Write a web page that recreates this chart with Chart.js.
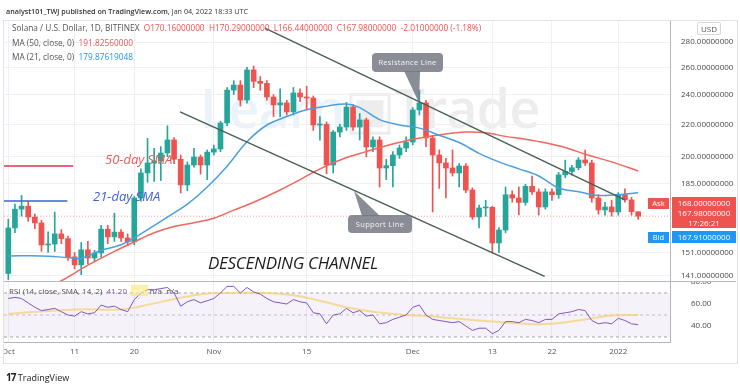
<!DOCTYPE html>
<html lang="en">
<head>
<meta charset="UTF-8">
<title>Solana / U.S. Dollar, 1D</title>
<script src="https://cdn.jsdelivr.net/npm/chart.js@4.4.1/dist/chart.umd.min.js"></script>
<style>
  body { margin:0; width:740px; height:387px; background:#fff; position:relative; overflow:hidden;
         font-family:"Open Sans","DejaVu Sans",sans-serif; color:#333; }
  .abs { position:absolute; white-space:nowrap; }
  canvas { position:absolute; }
  .frame { position:absolute; left:3px; top:20px; width:733px; height:342px; border:1px solid #e0e3eb; }
  .sep { position:absolute; left:4px; top:281px; width:732px; height:1px; background:#b8bbc4; }
  .wm { position:absolute; left:200px; top:70px; font-size:54px; font-weight:600; letter-spacing:-1px; }
  .callout { position:absolute; background:rgba(118,121,132,0.85); color:#f4f4f4; font-size:7.5px;
             border-radius:4px; text-align:center; letter-spacing:0.3px; }
  .tag { position:absolute; color:#fff; font-size:7.5px; text-align:center; }
  .lg { font-size:8.3px; color:#555; }
</style>
</head>
<body>
<div class="frame"></div>
<div class="wm"><span style="color:rgba(90,160,215,0.13)">Learn</span><span style="color:rgba(0,0,0,0.07)">&#9635;Trade</span></div>
<canvas id="price" width="736" height="260" style="left:4px;top:21px"></canvas>
<canvas id="rsi" width="736" height="81" style="left:4px;top:281px"></canvas>
<div class="sep"></div>

<svg class="abs" width="740" height="387" style="left:0;top:0">
  <polygon points="404,71 420,71 419,103" fill="rgba(118,121,132,0.85)"/>
  <polygon points="362,216 380,216 354,191" fill="rgba(118,121,132,0.85)"/>
</svg>

<div class="abs" style="left:6px;top:6px;font-size:7.2px;color:#333"><b style="font-weight:600">analyst101_TWJ published on TradingView.com,</b> Jan 04, 2022 18:33 UTC</div>
<div class="abs lg" style="left:12px;top:22px">Solana / U.S. Dollar, 1D, BITFINEX&nbsp; <span style="color:#ef5350">O170.16000000&nbsp; H170.29000000&nbsp; L166.44000000&nbsp; C167.98000000&nbsp; -2.01000000 (-1.18%)</span></div>
<div class="abs lg" style="left:12px;top:37px">MA (50, close, 0)&nbsp; <span style="color:#ef5350">191.82560000</span></div>
<div class="abs lg" style="left:12px;top:51px">MA (21, close, 0)&nbsp; <span style="color:#2196f3">179.87619048</span></div>

<div class="abs" style="left:105px;top:150px;font-size:13px;font-style:italic;color:#e35d5b">50-day SMA</div>
<div class="abs" style="left:93px;top:187px;font-size:13px;font-style:italic;color:#3f62da">21-day SMA</div>
<div class="abs" style="left:208px;top:251px;font-size:17px;font-style:italic;color:#1e1e1e;letter-spacing:-0.3px">DESCENDING CHANNEL</div>

<div class="callout" style="left:372px;top:53px;width:71px;height:19px;line-height:19px">Resistance Line</div>
<div class="callout" style="left:348px;top:215px;width:64px;height:18px;line-height:18px">Support Line</div>

<div class="abs" style="left:697px;top:22px;font-size:8px;color:#555;border:1px solid #d6d8de;border-radius:2px;padding:0 3px;line-height:11px">USD</div>
<div class="tag" style="left:648px;top:198px;width:21px;height:11px;line-height:11px;background:#ef5350">Ask</div>
<div class="tag" style="left:648px;top:232px;width:21px;height:11px;line-height:11px;background:#2196f3">Bid</div>
<div class="tag" style="left:672px;top:197px;width:64px;height:31px;background:#ef5350;font-size:8px;line-height:10px;padding-top:1px;box-sizing:border-box">168.00000000<br>167.98000000<br>17:26:21</div>
<div class="tag" style="left:672px;top:231px;width:64px;height:12px;line-height:12px;background:#2196f3;font-size:8px">167.91000000</div>

<div class="abs lg" style="left:9px;top:285px;font-size:8px">RSI (14, close, SMA, 14, 2)&nbsp; <span style="color:#7e57c2">41.20</span>&nbsp; <span style="background:rgba(255,230,90,0.55);color:rgba(255,255,255,0.8)">&nbsp;n/a&nbsp;</span> n/a .n/a</div>

<div class="abs" style="left:6px;top:370px;font-size:9px;color:#222"><b style="font-size:10px;letter-spacing:-1px">17</b> TradingView</div>

<script>
// daily candles, Oct 1 2021 (index 0) .. Jan 4 2022 (index 95)
const openP = [142.0,162.3,171.5,173.0,167.6,164.7,154.4,154.8,159.5,157.3,
  149.1,145.6,152.2,148.6,150.8,161.7,158.1,160.3,157.6,155.8,
  177.2,190.7,196.4,197.5,202.2,210.1,198.5,184.1,195.2,199.8,
  195.2,202.7,204.6,220.8,243.2,246.8,236.2,258.0,249.5,248.0,
  238.3,232.8,234.2,228.1,241.1,238.3,237.6,219.5,220.0,195.2,
  215.0,218.2,231.4,218.2,222.8,205.8,210.1,193.5,194.8,201.0,
  205.2,208.8,229.4,234.2,211.3,201.0,196.4,193.5,190.7,194.6,
  181.4,167.6,172.1,172.4,155.3,161.3,178.9,177.2,174.9,183.4,
  180.4,172.6,180.4,178.9,189.6,191.5,193.6,198.1,196.4,177.2,
  171.1,172.6,170.1,178.9,176.2,170.16];
const highP = [166.5,174.0,178.5,175.5,169.0,166.0,160.5,170.0,161.5,158.5,
  151.0,155.5,156.0,152.0,163.5,163.5,169.5,161.5,159.5,178.0,
  193.0,211.0,205.0,206.0,219.0,211.5,201.0,197.0,205.0,201.0,
  204.0,207.0,222.0,245.0,250.0,250.0,260.0,261.0,253.0,250.0,
  240.0,244.0,236.0,245.0,244.0,246.0,239.0,225.0,221.5,216.0,
  220.0,234.5,233.0,227.0,224.0,212.0,212.0,198.5,203.0,207.0,
  212.0,231.0,243.0,236.0,213.0,204.0,199.0,204.0,196.0,196.0,
  182.5,173.5,176.0,173.0,162.5,183.0,181.0,183.0,184.5,189.0,
  182.0,182.0,182.0,191.0,198.0,195.0,199.5,204.0,198.0,179.0,
  175.0,176.0,180.0,182.0,177.5,170.29];
const lowP = [139.5,160.0,168.0,165.5,162.0,151.5,151.0,151.5,155.0,147.5,
  144.0,141.5,146.0,147.0,149.0,155.0,156.0,156.0,154.0,154.5,
  175.5,185.5,186.0,186.5,200.0,196.0,179.8,181.0,194.0,190.0,
  187.0,201.0,203.0,219.0,240.0,232.0,234.0,245.0,243.0,236.0,
  225.0,225.0,226.0,226.0,235.0,230.0,216.0,210.0,190.2,190.7,
  212.0,216.0,216.0,210.0,200.0,203.0,183.0,187.0,183.0,199.0,
  203.0,207.0,226.0,206.0,170.1,182.2,177.2,189.0,183.0,180.0,
  166.5,162.3,168.0,150.8,151.0,160.0,175.0,168.6,173.5,179.0,
  168.6,171.5,176.0,177.0,188.0,189.5,192.5,195.0,175.0,169.0,
  168.5,168.0,168.5,175.0,168.5,166.44];
const closeP = [162.3,171.5,173.0,167.6,164.7,154.4,154.8,159.5,157.3,149.1,
  145.6,152.2,148.6,150.8,161.7,158.1,160.3,157.6,155.8,177.2,
  190.7,196.4,197.5,202.2,210.1,198.5,184.1,195.2,199.8,195.2,
  202.7,204.6,220.8,243.2,246.8,236.2,258.0,249.5,248.0,238.3,
  232.8,234.2,228.1,241.1,238.3,237.6,219.5,220.0,195.2,215.0,
  218.2,231.4,218.2,222.8,205.8,210.1,193.5,194.8,201.0,205.2,
  208.8,229.4,234.2,211.3,201.0,196.4,193.5,190.7,194.6,181.4,
  167.6,172.1,172.4,155.3,161.3,178.9,177.2,174.9,183.4,180.4,
  172.6,180.4,178.9,189.6,191.5,193.6,198.1,196.4,177.2,171.1,
  172.6,170.1,178.9,176.2,170.2,167.98];

// moving averages (day index -> value)
const ma21Days = [0,5,9,11,14,17,20,24,27,30,33,36,39,42,45,48,51,53,56,59,62,65,68,71,74,77,80,83,86,89,92,95];
const ma21Vals = [149.5,149.5,148.8,148.5,152,154.5,159.5,167.5,174,183,194.5,209,219.5,225,229.5,232,233.5,231,223,219.5,217.5,213,208.5,202,197,193,189,182.5,180.5,178.5,179,179.88];
const ma50Days = [6,8,12,16,19,22,25,28,31,34,37,41,44,47,51,54,57,61,65,69,72,75,78,81,84,87,91,95];
const ma50Vals = [136.5,139,145.5,151.5,155.8,160,163,164.8,167,171,175,181.4,187,193,199.5,203,206.5,210.5,213.2,215,214.5,212.3,210.5,208.3,205.5,201.5,197,191.83];

// hand-drawn annotations (day index, price)
const resistDays = [38.7, 93.0];
const resistVals = [291.7, 176.2];
const supportDays = [25.9, 80.9];
const supportVals = [228.1, 140.8];
const sma50KeyDays = [-0.65, 9.8];
const sma50KeyVals = [194.6, 194.6];
const sma21KeyDays = [-0.65, 8.9];
const sma21KeyVals = [175.6, 175.6];
const lastPrice = 167.98;

// RSI panel
const rsiVals = [65,66,65,61,57,54,55,56,53,50,
  49,53,51,52,59,57,58,55,53,64,
  70,73,73,74,75,70,58,62,64,61,
  63,65,70,76,76,70,75,71,69,65,
  62,61,60,64,62,61,52,51,42,50,
  51,56,52,54,49,50,42,43,46,48,
  50,57,59,50,46,45,44,43,44,40,
  36,38,38,33,36,44,44,43,46,45,
  43,46,46,51,52,53,55,54,45,42,
  43,42,47,45,42,41.2];
const rsiSmaDays = [0,10,17,20,28,32,39,43,47,51,55,60,63,67,73,78,82,87,91,95];
const rsiSmaVals = [51,55,55,58,68,70,70,68,63,57,53,50,49,47,44,42,42,46,49.5,50];

// axes
const priceTicks = [141,151,185,200,220,240,260,280];
const rsiTicks = [40,60,80];
const dateTicks = [0,10,19,31,45,61,73,82,92];
const dateLabels = ['Oct','11','20','Nov','15','Dec','13','22','2022'];

const UP = '#26a69a', DOWN = '#ef5350';
const X_MIN = -0.65, X_MAX = 99.8;
const GRID = '#eef0f4';
const tickFont = { size: 8, family: 'Open Sans' };

const pts = (xs, ys) => xs.map((x, k) => ({ x: x, y: ys[k] }));
const candleColor = openP.map((o, i) => closeP[i] >= o ? UP : DOWN);

const lineSet = (data, color, width, extra) => Object.assign({
  type: 'line', data: data, borderColor: color, borderWidth: width,
  pointRadius: 0, fill: false, tension: 0, order: 0
}, extra || {});

new Chart(document.getElementById('price'), {
  type: 'bar',
  data: {
    datasets: [
      lineSet(pts(resistDays, resistVals), '#4a6152', 1.5),
      lineSet(pts(supportDays, supportVals), '#4a6152', 1.5),
      lineSet(pts(ma21Days, ma21Vals), '#4b9fe1', 1.5, { tension: 0.35 }),
      lineSet(pts(ma50Days, ma50Vals), '#f0675d', 1.5, { tension: 0.35 }),
      lineSet(pts(sma50KeyDays, sma50KeyVals), '#e0324f', 1.5),
      lineSet(pts(sma21KeyDays, sma21KeyVals), '#3f5fd6', 1.5),
      lineSet(pts([X_MIN, X_MAX], [lastPrice, lastPrice]), 'rgba(239,83,80,0.55)', 1, { borderDash: [1, 2], order: 4 }),
      {
        data: openP.map((o, i) => ({ x: i, y: [o, closeP[i]] })),
        backgroundColor: candleColor, barThickness: 5, minBarLength: 1, grouped: false, order: 2
      },
      {
        data: openP.map((o, i) => ({ x: i, y: [lowP[i], highP[i]] })),
        backgroundColor: candleColor, barThickness: 1, grouped: false, order: 3
      }
    ]
  },
  options: {
    responsive: false, animation: false, events: [],
    layout: { padding: 0 },
    plugins: { legend: { display: false }, tooltip: { enabled: false } },
    scales: {
      x: {
        type: 'linear', min: X_MIN, max: X_MAX, offset: false,
        grid: { color: GRID, drawTicks: false, offset: false },
        border: { display: false },
        ticks: { display: false },
        afterBuildTicks: s => { s.ticks = dateTicks.map(v => ({ value: v })); },
        afterFit: s => { s.height = 0; s.paddingLeft = 0; s.paddingRight = 0; }
      },
      y: {
        type: 'logarithmic', position: 'right', min: 138.9, max: 297.8,
        grid: { color: GRID, drawTicks: false },
        border: { color: '#b2b5be' },
        ticks: { font: tickFont, color: '#4a4a4a', padding: 11, callback: v => Number(v).toFixed(8) },
        afterBuildTicks: s => { s.ticks = priceTicks.map(v => ({ value: v })); },
        afterFit: s => { s.width = 70; s.paddingTop = 0; s.paddingBottom = 0; }
      }
    }
  }
});

new Chart(document.getElementById('rsi'), {
  type: 'line',
  data: {
    datasets: [
      lineSet(pts([X_MIN, X_MAX], [70, 70]), '#a3a6af', 1, { borderDash: [3, 3], fill: '+1', backgroundColor: 'rgba(126,87,194,0.08)', order: 5 }),
      lineSet(pts([X_MIN, X_MAX], [30, 30]), '#a3a6af', 1, { borderDash: [3, 3], order: 5 }),
      lineSet(pts([X_MIN, X_MAX], [50, 50]), '#c3c5cc', 1, { borderDash: [3, 3], order: 5 }),
      lineSet(pts(rsiSmaDays, rsiSmaVals), 'rgba(245,210,120,0.75)', 2, { tension: 0.4, order: 1 }),
      lineSet(rsiVals.map((v, i) => ({ x: i, y: v })), '#7e57c2', 1, { order: 0 })
    ]
  },
  options: {
    responsive: false, animation: false, events: [],
    layout: { padding: 0 },
    plugins: { legend: { display: false }, tooltip: { enabled: false } },
    scales: {
      x: {
        type: 'linear', min: X_MIN, max: X_MAX,
        grid: { color: GRID, drawTicks: false },
        border: { color: '#b2b5be' },
        ticks: { font: tickFont, color: '#555', padding: 5, maxRotation: 0, autoSkip: false,
                 callback: v => dateLabels[dateTicks.indexOf(v)] },
        afterBuildTicks: s => { s.ticks = dateTicks.map(v => ({ value: v })); },
        afterFit: s => { s.height = 20; s.paddingLeft = 0; s.paddingRight = 0; }
      },
      y: {
        type: 'linear', position: 'right', min: 25.45, max: 80.9,
        grid: { display: false },
        border: { color: '#b2b5be' },
        ticks: { font: tickFont, color: '#4a4a4a', padding: 13, callback: v => Number(v).toFixed(2) },
        afterBuildTicks: s => { s.ticks = rsiTicks.map(v => ({ value: v })); },
        afterFit: s => { s.width = 70; s.paddingTop = 0; s.paddingBottom = 0; }
      }
    }
  }
});
</script>
</body>
</html>
